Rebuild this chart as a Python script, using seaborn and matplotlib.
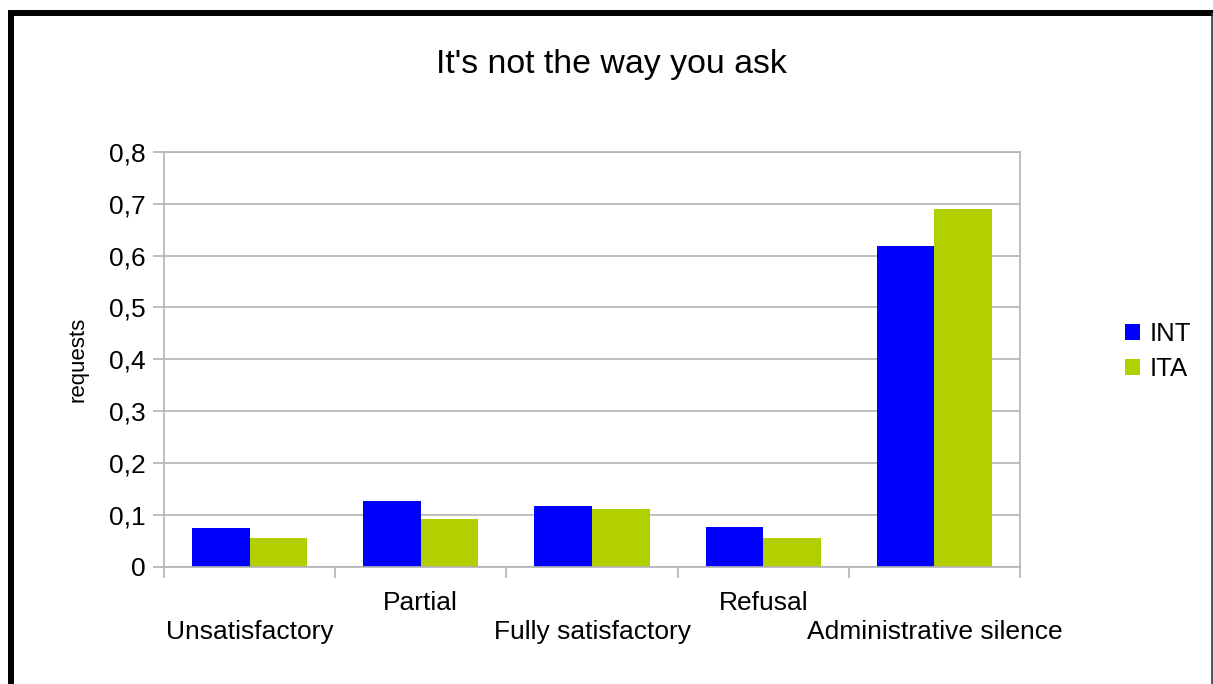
import matplotlib
matplotlib.use("Agg")
import matplotlib.pyplot as plt
from matplotlib.lines import Line2D
import seaborn as sns
import pandas as pd

# Share of requests by outcome, per group
categories = ["Unsatisfactory", "Partial", "Fully satisfactory", "Refusal", "Administrative silence"]
int_values = [0.075, 0.127, 0.117, 0.078, 0.618]
ita_values = [0.055, 0.092, 0.111, 0.055, 0.689]
series_names = ["INT", "ITA"]
y_ticks = [0, 0.1, 0.2, 0.3, 0.4, 0.5, 0.6, 0.7, 0.8]
y_tick_labels = ["0", "0,1", "0,2", "0,3", "0,4", "0,5", "0,6", "0,7", "0,8"]

df = pd.DataFrame({
    "category": categories * 2,
    "value": int_values + ita_values,
    "series": [series_names[0]] * len(categories) + [series_names[1]] * len(categories),
})

sns.set_theme(style="white")
plt.rcParams["font.family"] = ["Liberation Sans", "DejaVu Sans"]
plt.rcParams["text.color"] = "black"
plt.rcParams["axes.labelcolor"] = "black"
plt.rcParams["xtick.labelcolor"] = "black"
plt.rcParams["ytick.labelcolor"] = "black"

W, H = 1213, 684
fig = plt.figure(figsize=(W / 100, H / 100), dpi=100)
ax = fig.add_axes([164 / W, 1 - 567 / H, (1020 - 164) / W, (567 - 151.7) / H])

sns.barplot(data=df, x="category", y="value", hue="series", order=categories,
            hue_order=series_names, palette=["#0000ff", "#b2d000"],
            width=0.672, gap=0, saturation=1, linewidth=0, ax=ax, legend=True)

grid_color = "#b3b3b3"
ax.set_xlim(-0.5, len(categories) - 0.5)
ax.set_ylim(0, 0.8)
ax.set_yticks(y_ticks)
ax.set_yticklabels(y_tick_labels, fontsize=19, color="black")
ax.yaxis.grid(True, color=grid_color, linewidth=1.2)
ax.set_axisbelow(True)
for s in ax.spines.values():
    s.set_visible(True)
    s.set_color(grid_color)
    s.set_linewidth(1.2)

ax.tick_params(axis="y", which="major", length=8, width=1.2, color=grid_color,
               direction="out", pad=5.5, left=True)

# category labels at the centres, tick marks at the category boundaries
ax.set_xticks(range(len(categories)))
ax.set_xticklabels(categories, fontsize=19, color="black")
ax.set_xticks([i - 0.5 for i in range(len(categories) + 1)], minor=True)
ax.tick_params(axis="x", which="major", length=0, bottom=True)
ax.tick_params(axis="x", which="minor", length=8, width=1.2, color=grid_color,
               direction="out", bottom=True)
for i, tick in enumerate(ax.xaxis.get_major_ticks()):
    tick.set_pad(38.5 if i % 2 == 0 else 17.0)

ax.set_xlabel("")
ax.set_ylabel("requests", fontsize=16, color="black")
ax.yaxis.set_label_coords((88 - 164) / (1020 - 164), 0.5)

handles, labels = ax.get_legend_handles_labels()
leg = ax.legend(handles, labels, loc="center left",
                bbox_to_anchor=(1125 / W, 1 - 351.5 / H), bbox_transform=fig.transFigure,
                frameon=False, fontsize=18.5, handlelength=0.6, handleheight=0.6,
                handletextpad=0.35, labelspacing=0.42, borderpad=0, borderaxespad=0)
for t in leg.get_texts():
    t.set_color("black")

fig.text(611 / W, 1 - 72.7 / H, "It's not the way you ask", fontsize=24.4,
         ha="center", va="baseline", color="black")

# chart border
fig.add_artist(Line2D([11 / W, 11 / W], [0, 1 - 10 / H], transform=fig.transFigure,
                      color="black", linewidth=4.3, solid_capstyle="butt"))
fig.add_artist(Line2D([8 / W, 1213 / W], [1 - 13 / H, 1 - 13 / H], transform=fig.transFigure,
                      color="black", linewidth=4.3, solid_capstyle="butt"))
fig.add_artist(Line2D([1211.5 / W, 1211.5 / W], [0, 1 - 13 / H], transform=fig.transFigure,
                      color="#333333", linewidth=1.2, solid_capstyle="butt"))

fig.savefig("out.png", dpi=100, facecolor="white")
